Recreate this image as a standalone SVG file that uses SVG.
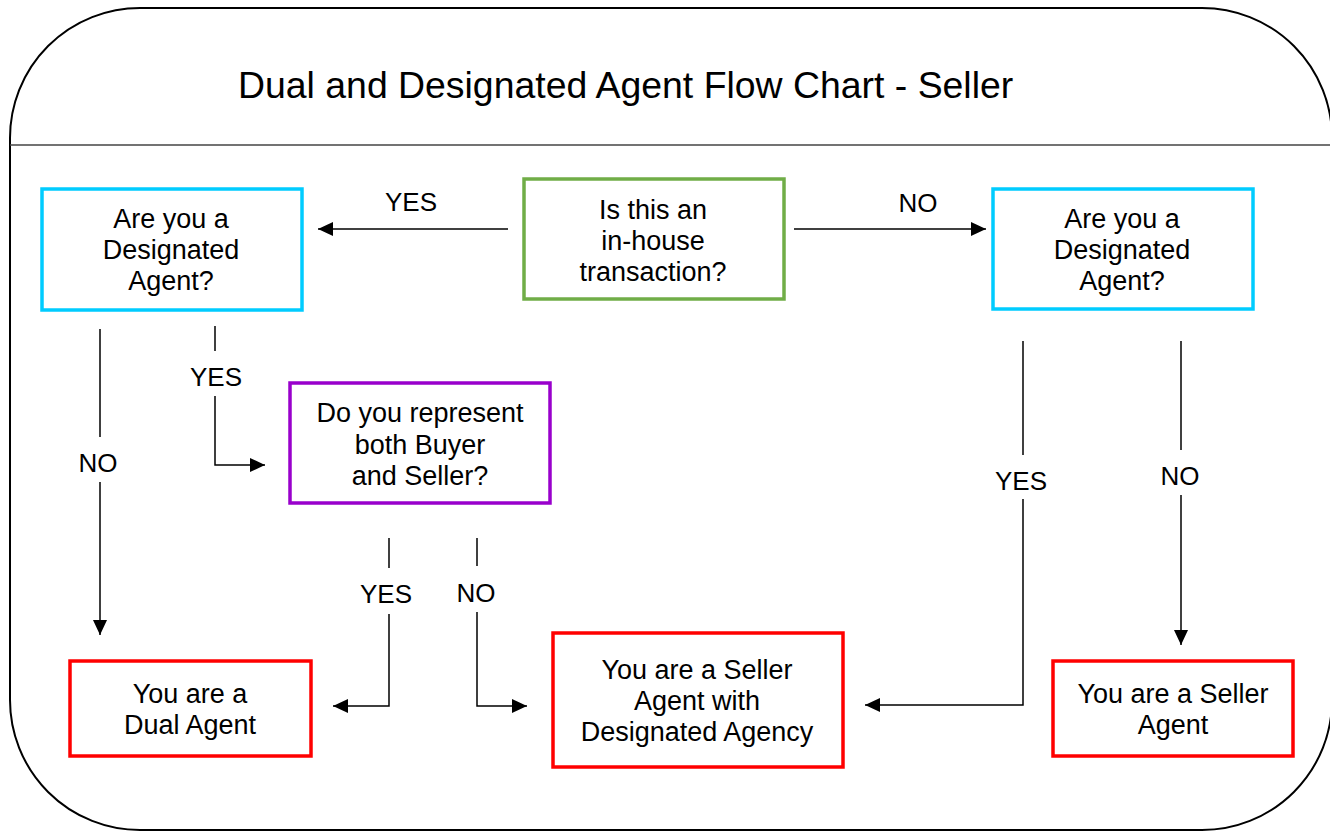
<svg xmlns="http://www.w3.org/2000/svg" width="1330" height="831" viewBox="0 0 1330 831">
<defs>
<style>
text{font-family:"Liberation Sans",Arial,sans-serif;fill:#000;}
.t{font-size:26px;text-anchor:middle;}
.n{font-size:27px;text-anchor:middle;}
.box{fill:#fff;stroke-width:3.5;}
.blue{stroke:#00CCFF;}
.green{stroke:#70AD47;}
.purple{stroke:#9900CC;}
.red{stroke:#FF0000;}
.c{fill:none;stroke:#000;stroke-width:1.5;}
.ca{fill:none;stroke:#000;stroke-width:1.5;marker-end:url(#ah);}
</style>
<marker id="ah" markerUnits="userSpaceOnUse" markerWidth="16" markerHeight="16" refX="15" refY="7" orient="auto">
<path d="M0,0 L15,7 L0,14 Z" fill="#000"/>
</marker>
</defs>
<rect width="1330" height="831" fill="#fff"/>
<g id="frame">
<rect x="10" y="8" width="1322" height="822" rx="130" ry="130" fill="none" stroke="#000" stroke-width="2"/>
<line x1="10" y1="145" x2="1330" y2="145" stroke="#444" stroke-width="1.5"/>
<text x="238" y="98" font-size="37.4">Dual and Designated Agent Flow Chart - Seller</text>
</g>
<g id="connectors">
<line class="ca" x1="508" y1="229" x2="318" y2="229"/>
<text class="t" x="411" y="211">YES</text>
<line class="ca" x1="794" y1="229" x2="986" y2="229"/>
<text class="t" x="918" y="212">NO</text>
<line class="c" x1="100" y1="329" x2="100" y2="437"/>
<text class="t" x="98" y="472">NO</text>
<line class="ca" x1="100" y1="482" x2="100" y2="635"/>
<line class="c" x1="215" y1="326" x2="215" y2="351"/>
<text class="t" x="216" y="386">YES</text>
<polyline class="ca" points="215,396 215,465 265,465"/>
<line class="c" x1="389" y1="538" x2="389" y2="568"/>
<text class="t" x="386" y="603">YES</text>
<polyline class="ca" points="389,614 389,706 333,706"/>
<line class="c" x1="477" y1="538" x2="477" y2="566"/>
<text class="t" x="476" y="602">NO</text>
<polyline class="ca" points="477,612 477,706 527,706"/>
<line class="c" x1="1023" y1="341" x2="1023" y2="455"/>
<text class="t" x="1021" y="490">YES</text>
<polyline class="ca" points="1023,499 1023,705 865,705"/>
<line class="c" x1="1181" y1="341" x2="1181" y2="450"/>
<text class="t" x="1180" y="485">NO</text>
<line class="ca" x1="1181" y1="495" x2="1181" y2="645"/>
</g>
<g id="n-inhouse">
<rect class="box green" x="524" y="179" width="260" height="120"/>
<text class="n" x="653" y="219">Is this an</text>
<text class="n" x="653" y="250">in-house</text>
<text class="n" x="653" y="281">transaction?</text>
</g>
<g id="n-designated-left">
<rect class="box blue" x="42" y="189" width="260" height="121"/>
<text class="n" x="171" y="228">Are you a</text>
<text class="n" x="171" y="259">Designated</text>
<text class="n" x="171" y="290">Agent?</text>
</g>
<g id="n-designated-right">
<rect class="box blue" x="993" y="189" width="260" height="120"/>
<text class="n" x="1122" y="228">Are you a</text>
<text class="n" x="1122" y="259">Designated</text>
<text class="n" x="1122" y="290">Agent?</text>
</g>
<g id="n-both">
<rect class="box purple" x="290" y="383" width="260" height="120"/>
<text class="n" x="420" y="422">Do you represent</text>
<text class="n" x="420" y="454">both Buyer</text>
<text class="n" x="420" y="485">and Seller?</text>
</g>
<g id="n-dual">
<rect class="box red" x="70" y="661" width="241" height="95"/>
<text class="n" x="190" y="703">You are a</text>
<text class="n" x="190" y="734">Dual Agent</text>
</g>
<g id="n-seller-designated">
<rect class="box red" x="553" y="633" width="290" height="134"/>
<text class="n" x="697" y="679">You are a Seller</text>
<text class="n" x="697" y="710">Agent with</text>
<text class="n" x="697" y="741">Designated Agency</text>
</g>
<g id="n-seller">
<rect class="box red" x="1053" y="661" width="240" height="95"/>
<text class="n" x="1173" y="703">You are a Seller</text>
<text class="n" x="1173" y="734">Agent</text>
</g>
</svg>
